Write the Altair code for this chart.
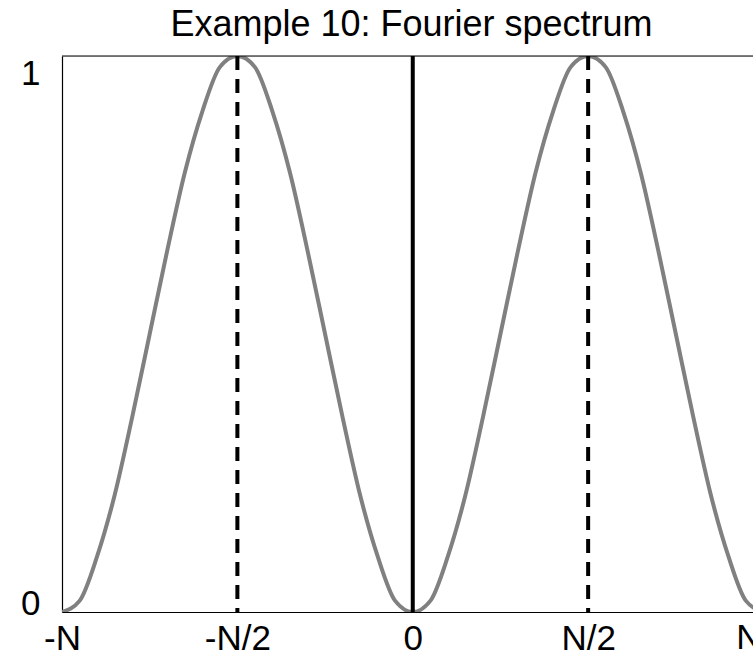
import altair as alt
import pandas as pd

# Frequency positions in units of N and the spectrum magnitude at each one
freq = [-1.00, -0.95, -0.90, -0.85, -0.80, -0.75, -0.70, -0.65, -0.60, -0.55,
        -0.50, -0.45, -0.40, -0.35, -0.30, -0.25, -0.20, -0.15, -0.10, -0.05,
        0.00, 0.05, 0.10, 0.15, 0.20, 0.25, 0.30, 0.35, 0.40, 0.45,
        0.50, 0.55, 0.60, 0.65, 0.70, 0.75, 0.80, 0.85, 0.90, 0.95, 1.00]
magnitude = [0.00, 0.02, 0.10, 0.21, 0.35, 0.50, 0.65, 0.79, 0.90, 0.98,
             1.00, 0.98, 0.90, 0.79, 0.65, 0.50, 0.35, 0.21, 0.10, 0.02,
             0.00, 0.02, 0.10, 0.21, 0.35, 0.50, 0.65, 0.79, 0.90, 0.98,
             1.00, 0.98, 0.90, 0.79, 0.65, 0.50, 0.35, 0.21, 0.10, 0.02, 0.00]

# Marker lines: half-band positions (dashed) and DC (solid)
dashed_at = [-0.5, 0.5]
solid_at = [0.0]

# Tick positions and their labels
x_ticks = [-1.0, -0.5, 0.0, 0.5]
x_tick_labels = ["-N", "-N/2", "0", "N/2"]
end_label = ["N"]
y_ticks = [0, 1]

FONT = "Liberation Sans"
FS = 35
TITLE_FS = 36

spectrum = pd.DataFrame({"f": freq, "m": magnitude})

# nested conditional expression: tick value -> text
label_expr = "''"
for v, t in reversed(list(zip(x_ticks, x_tick_labels))):
    label_expr = f"abs(datum.value - ({v})) < 1e-6 ? '{t}' : ({label_expr})"

x_scale = alt.Scale(domain=[-1.0, 0.97], nice=False, zero=False)
y_scale = alt.Scale(domain=[0, 1], nice=False)

x_enc = alt.X(
    "f:Q",
    scale=x_scale,
    axis=alt.Axis(
        values=x_ticks,
        labelExpr=label_expr,
        title=None,
        grid=False,
        ticks=False,
        domainColor="black",
        domainWidth=1.2,
        labelFont=FONT,
        labelFontSize=FS,
        labelColor="black",
        labelPadding=9,
        labelFlush=False,
        labelOverlap=False,
    ),
)
y_enc = alt.Y(
    "m:Q",
    scale=y_scale,
    axis=alt.Axis(
        values=y_ticks,
        format="d",
        title=None,
        grid=False,
        ticks=False,
        domainColor="black",
        domainWidth=1.2,
        labelFont=FONT,
        labelFontSize=FS,
        labelColor="black",
        labelPadding=22,
        labelFlush=False,
        labelOverlap=False,
        labelBaseline={"condition": {"test": "datum.value == 1", "value": "top"},
                       "value": "alphabetic"},
        labelOffset={"condition": {"test": "datum.value == 1", "value": 0},
                     "value": 2},
    ),
)

curve = alt.Chart(spectrum).mark_line(
    color="#808080", strokeWidth=4, interpolate="monotone", clip=True
).encode(x=x_enc, y=y_enc)

dashed = alt.Chart(pd.DataFrame({"f": dashed_at})).mark_rule(
    color="black", strokeWidth=4, strokeDash=[14, 9]
).encode(x=alt.X("f:Q", scale=x_scale))

solid = alt.Chart(pd.DataFrame({"f": solid_at})).mark_rule(
    color="black", strokeWidth=4
).encode(x=alt.X("f:Q", scale=x_scale))

top_border = alt.Chart(pd.DataFrame({"m": [1]})).mark_rule(
    color="black", strokeWidth=1.2
).encode(y=alt.Y("m:Q", scale=y_scale))

n_label = alt.Chart(pd.DataFrame({"f": [1.0], "t": end_label})).mark_text(
    font=FONT, fontSize=FS, color="black", align="right", baseline="top",
    dy=9, dx=-2, clip=False
).encode(x=alt.X("f:Q", scale=x_scale), y=alt.value(556), text="t:N")

chart = alt.layer(curve, dashed, solid, top_border, n_label).properties(
    width=691,
    height=556,
    title=alt.TitleParams(
        "Example 10: Fourier spectrum",
        font=FONT,
        fontSize=TITLE_FS,
        fontWeight="normal",
        color="black",
        anchor="middle",
        offset=10,
        dx=4,
    ),
    autosize=alt.AutoSizeParams(type="none"),
    padding={"left": 62, "top": 56, "right": 0, "bottom": 44},
).configure_view(stroke=None).configure(background="white")

chart.save("out.html", embed_options={"renderer": "svg", "actions": False})
